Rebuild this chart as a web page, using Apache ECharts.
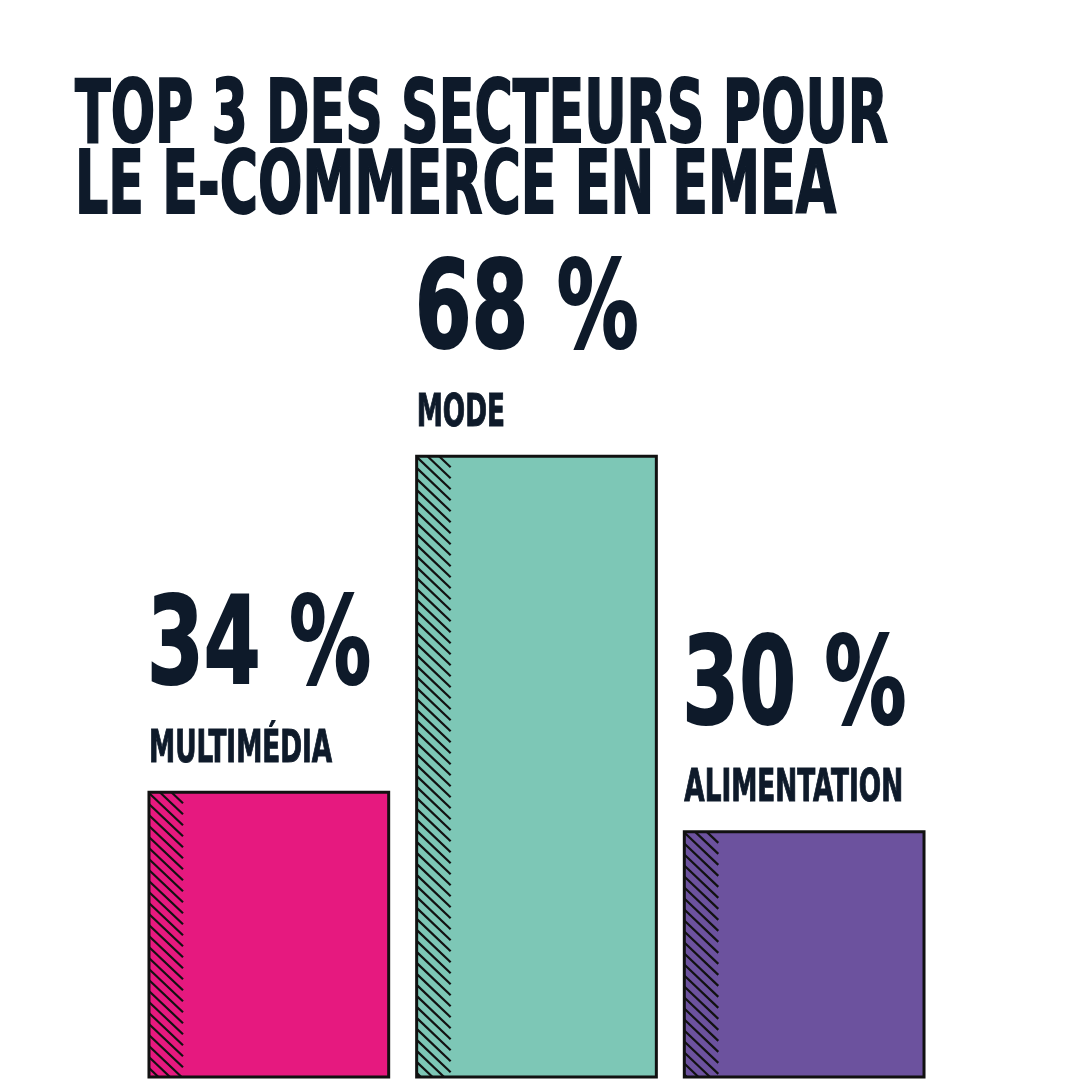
<!DOCTYPE html>
<html>
<head>
<meta charset="utf-8">
<script src="https://cdn.jsdelivr.net/npm/echarts@6/dist/echarts.min.js"></script>
<style>html,body{margin:0;padding:0;background:#fff}#c{width:1080px;height:1080px}</style>
</head>
<body>
<div id="c"></div>
<script>
// ---- data ----
const titleLines = ['TOP 3 DES SECTEURS POUR', 'LE E-COMMERCE EN EMEA'];
const categories = ['MULTIMÉDIA', 'MODE', 'ALIMENTATION'];
const values = [34, 68, 30];
const unit = ' %';

// ---- style ----
const barColors = ['#E6197F', '#7DC7B6', '#6C529E'];
const ink = '#0E1A2A';
const FONT = '"DejaVu Sans Condensed", "DejaVu Sans", sans-serif';
const AXIS_MIN = 5, AXIS_MAX = 75;

const chart = echarts.init(document.getElementById('c'), null, {renderer: 'canvas'});

function renderItem(params, api) {
  const i = params.dataIndex;
  const v = api.value(1);
  const topPt = api.coord([i, v]);
  const basePt = api.coord([i, AXIS_MIN]);
  const bw = api.size([1, 0])[0] * 240 / 268;
  const left = topPt[0] - bw / 2;
  const top = topPt[1];
  const bottom = basePt[1] - 2;
  const children = [];
  children.push({type: 'rect', shape: {x: left, y: top, width: bw, height: bottom - top},
    style: {fill: barColors[i]}});
  // hatch strip
  const W = 34, s = 0.95, step = 11;
  const dy = W * s;
  for (let y0 = top - dy; y0 < bottom; y0 += step) {
    const tmin = Math.max(0, (top - y0) / dy);
    const tmax = Math.min(1, (bottom - y0) / dy);
    if (tmin < tmax) {
      children.push({type: 'line', shape: {
        x1: left + tmin * W, y1: y0 + tmin * dy,
        x2: left + tmax * W, y2: y0 + tmax * dy},
        style: {stroke: '#111', lineWidth: 2.2}});
    }
  }
  children.push({type: 'rect', shape: {x: left, y: top, width: bw, height: bottom - top},
    style: {fill: 'none', stroke: '#111', lineWidth: 3}});
  // category label
  children.push({type: 'text', x: left, y: top - 20, scaleX: 0.835, scaleY: 1.25,
    style: {text: categories[i], fill: ink, stroke: ink, lineWidth: 0.8,
      fontFamily: FONT, fontWeight: 'bold', fontSize: 35,
      align: 'left', verticalAlign: 'bottom'}});
  // value label
  children.push({type: 'text', x: left - 2, y: top - 80, scaleX: 0.77, scaleY: 1.02,
    style: {text: v + unit, fill: ink, stroke: ink, lineWidth: 2,
      fontFamily: FONT, fontWeight: 'bold', fontSize: 118,
      align: 'left', verticalAlign: 'bottom'}});
  return {type: 'group', children: children};
}

chart.setOption({
  animation: false,
  backgroundColor: '#fff',
  grid: {left: 135, right: 142, top: 387, bottom: 1},
  xAxis: {type: 'category', data: categories, show: false},
  yAxis: {type: 'value', min: AXIS_MIN, max: AXIS_MAX, show: false},
  graphic: titleLines.map((t, k) => ({
    type: 'text', x: 75, y: 163 + k * 71, scaleX: 0.83, scaleY: 1.24,
    style: {text: t, fill: ink, stroke: ink, lineWidth: 1.5,
      fontFamily: FONT, fontWeight: 'bold', fontSize: 70,
      align: 'left', verticalAlign: 'bottom'}
  })),
  series: [{
    type: 'custom',
    clip: false,
    renderItem: renderItem,
    data: values.map((v, i) => [i, v])
  }]
});
</script>
</body>
</html>
